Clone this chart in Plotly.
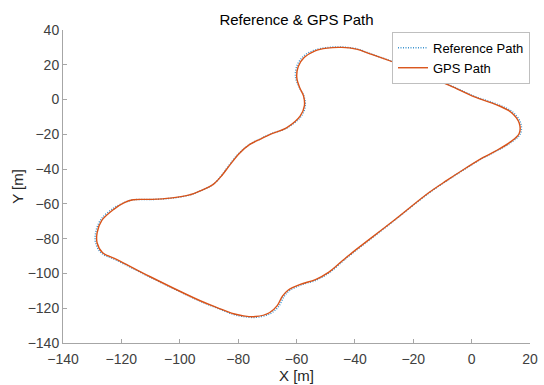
import plotly.graph_objects as go

# GPS path (orange), in metres
gps_x = [-116.0, -110.0, -103.3, -97.0, -93.0, -88.4, -85.5, -83.0, -79.6, -76.0,
         -72.2, -69.0, -63.3, -58.7, -57.3, -57.6, -58.9, -59.9, -59.4, -57.3,
         -53.8, -49.5, -44.5, -39.5, -34.8, -26.0, -17.6, -7.4, 1.0, 8.6,
         13.5, 16.3, 16.3, 13.2, 8.0, 4.0, -3.0, -8.5, -14.7, -27.0,
         -40.9, -44.5, -48.9, -53.5, -58.7, -62.8, -64.8, -66.6, -69.3, -74.0,
         -78.5, -81.6, -87.0, -93.0, -110.1, -121.5, -126.5, -128.3, -128.3, -126.7,
         -122.5, -119.0, -116.0]
gps_y = [-57.6, -57.4, -56.7, -55.0, -52.5, -48.6, -43.5, -38.0, -31.0, -25.8,
         -22.6, -20.0, -16.1, -9.4, -3.6, 2.1, 6.8, 12.6, 19.0, 24.3,
         27.9, 29.6, 30.0, 29.0, 26.3, 21.0, 15.2, 8.0, 1.5, -3.0,
         -7.3, -13.5, -19.5, -24.5, -29.8, -33.3, -40.5, -46.5, -53.6, -70.0,
         -88.0, -93.0, -99.2, -103.5, -106.3, -109.5, -113.0, -118.5, -122.6, -124.8,
         -124.3, -123.2, -119.8, -115.7, -101.9, -92.0, -88.0, -82.5, -76.5, -69.5,
         -63.0, -59.3, -57.6]

# Reference path (blue dotted)
ref_x = [-116.1, -110.0, -103.3, -97.0, -93.0, -88.5, -85.6, -83.2, -79.7, -76.0,
         -72.2, -69.0, -63.2, -58.4, -57.0, -57.5, -59.0, -60.3, -59.9, -57.8,
         -54.2, -49.6, -44.5, -39.4, -34.7, -26.0, -17.5, -7.3, 1.2, 8.9,
         14.0, 16.8, 16.7, 13.5, 8.2, 4.1, -2.9, -8.4, -14.6, -26.9,
         -40.7, -44.3, -48.6, -53.2, -58.4, -62.3, -64.3, -66.1, -69.0, -73.7,
         -78.5, -81.7, -87.1, -93.1, -110.2, -121.8, -126.9, -128.8, -128.8, -127.1,
         -122.9, -119.2, -116.1]
ref_y = [-57.7, -57.5, -56.8, -55.1, -52.6, -48.7, -43.5, -38.0, -30.9, -25.7,
         -22.5, -19.9, -16.2, -9.6, -3.7, 2.1, 6.9, 12.7, 19.2, 24.6,
         28.2, 29.9, 30.2, 29.2, 26.4, 21.1, 15.3, 8.2, 1.7, -2.8,
         -7.1, -13.5, -19.6, -24.7, -29.9, -33.4, -40.6, -46.6, -53.7, -70.1,
         -88.2, -93.2, -99.4, -103.8, -106.6, -109.8, -113.3, -118.9, -123.1, -125.2,
         -124.7, -123.5, -120.0, -115.9, -102.1, -92.3, -88.2, -82.5, -76.5, -69.2,
         -62.7, -59.4, -57.7]

x_ticks = [-140, -120, -100, -80, -60, -40, -20, 0, 20]
y_ticks = [-140, -120, -100, -80, -60, -40, -20, 0, 20, 40]

FONT = "Liberation Sans, Arial, sans-serif"

fig = go.Figure()
fig.add_trace(go.Scatter(x=ref_x, y=ref_y, mode="lines", name="Reference Path",
                         line=dict(color="#3D93CF", width=1.5, dash="1px,1.5px",
                                   shape="spline", smoothing=1.0)))
fig.add_trace(go.Scatter(x=gps_x, y=gps_y, mode="lines", name="GPS Path",
                         line=dict(color="#D95319", width=1.4, shape="spline", smoothing=1.0)))

axis_common = dict(showgrid=False, zeroline=False, showline=True, linecolor="#A6A6A6",
                   linewidth=1, ticks="inside", ticklen=4, tickcolor="#A6A6A6",
                   tickfont=dict(family=FONT, size=14, color="#404040"),
                   mirror=False, automargin=False)

fig.update_layout(
    width=544, height=385,
    margin=dict(l=63, r=14, t=30, b=42),
    paper_bgcolor="white", plot_bgcolor="white",
    title=dict(text="Reference & GPS Path", xref="paper", x=0.5, xanchor="center",
               yref="container", y=1 - 19.5 / 385, yanchor="middle",
               font=dict(family=FONT, size=15, color="#000000"), automargin=False),
    xaxis=dict(range=[-140, 20], tickvals=x_ticks, ticklabelstandoff=3,
               title=dict(text="X [m]", standoff=4,
                          font=dict(family=FONT, size=15, color="#262626")),
               **axis_common),
    yaxis=dict(range=[-140, 40], tickvals=y_ticks,
               title=dict(text="Y [m]", standoff=0,
                          font=dict(family=FONT, size=15, color="#262626")),
               **axis_common),
    legend=dict(x=1.0, y=0.994, xanchor="right", yanchor="top",
                bgcolor="white", bordercolor="#BFBFBF", borderwidth=1,
                font=dict(family=FONT, size=13, color="#000000"),
                tracegroupgap=0, itemwidth=30),
    showlegend=True,
)

fig.write_html("out.html")
